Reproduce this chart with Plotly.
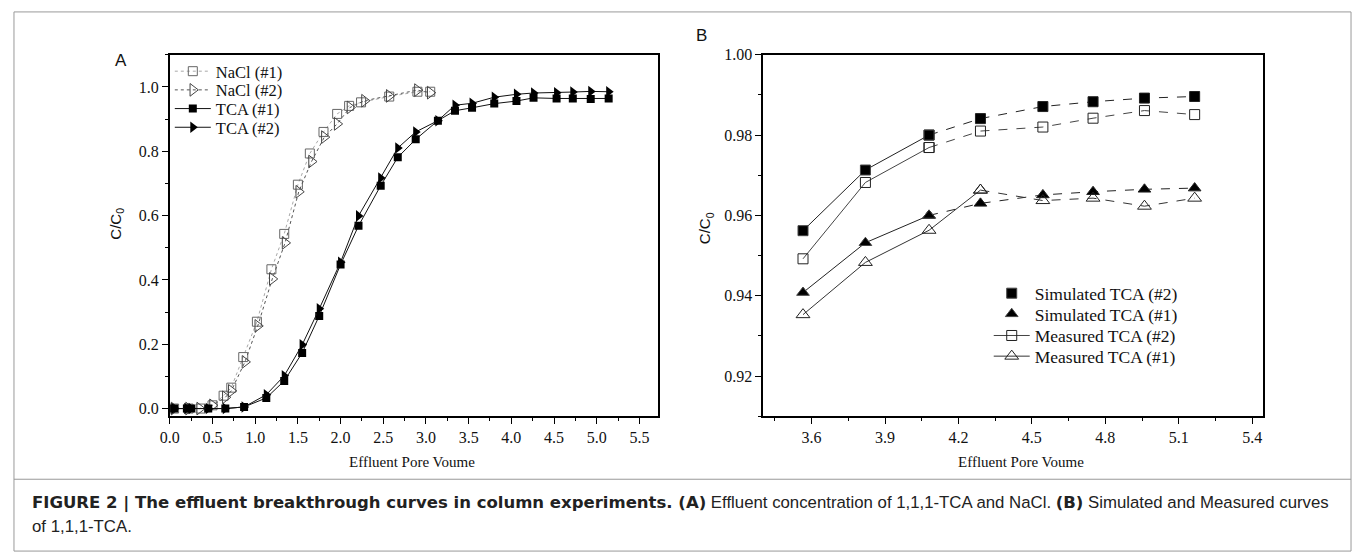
import plotly.graph_objects as go

# ---------------- Panel A data ----------------
nacl1_x = [0.05, 0.22, 0.36, 0.50, 0.63, 0.72, 0.86, 1.02, 1.19, 1.34, 1.50, 1.64, 1.80, 1.96, 2.10, 2.24, 2.57, 2.90, 3.05]
nacl1_y = [0.0, 0.0, 0.0, 0.01, 0.04, 0.065, 0.16, 0.27, 0.433, 0.543, 0.696, 0.793, 0.86, 0.916, 0.941, 0.952, 0.970, 0.985, 0.985]
nacl2_x = [0.05, 0.22, 0.35, 0.50, 0.65, 0.72, 0.88, 1.03, 1.20, 1.35, 1.51, 1.66, 1.81, 1.96, 2.11, 2.28, 2.57, 2.90, 3.05]
nacl2_y = [0.0, 0.0, 0.0, 0.01, 0.035, 0.055, 0.145, 0.257, 0.403, 0.515, 0.674, 0.768, 0.844, 0.885, 0.936, 0.957, 0.972, 0.990, 0.982]
tca_x = [0.05, 0.20, 0.25, 0.45, 0.65, 0.87, 1.13, 1.34, 1.55, 1.75, 2.00, 2.21, 2.47, 2.67, 2.88, 3.14, 3.34, 3.54, 3.80, 4.06, 4.26, 4.53, 4.72, 4.93, 5.14]
tca1_y = [0.0, 0.0, 0.0, 0.0, 0.0, 0.005, 0.033, 0.086, 0.173, 0.288, 0.448, 0.568, 0.693, 0.781, 0.837, 0.895, 0.926, 0.935, 0.948, 0.956, 0.966, 0.964, 0.964, 0.962, 0.964]
tca2_y = [0.0, 0.0, 0.0, 0.0, 0.0, 0.005, 0.043, 0.102, 0.198, 0.310, 0.455, 0.599, 0.717, 0.810, 0.860, 0.895, 0.943, 0.949, 0.968, 0.977, 0.981, 0.982, 0.984, 0.986, 0.985]

# ---------------- Panel B data ----------------
pv_b = [3.565, 3.82, 4.08, 4.29, 4.545, 4.75, 4.96, 5.165]
sim2 = [0.9562, 0.9713, 0.9800, 0.9841, 0.9871, 0.9883, 0.9892, 0.9896]
sim1 = [0.9408, 0.9532, 0.9600, 0.9630, 0.9651, 0.9659, 0.9665, 0.9668]
meas2 = [0.9492, 0.9682, 0.9769, 0.9810, 0.9820, 0.9842, 0.9861, 0.9851]
meas1 = [0.9353, 0.9483, 0.9563, 0.9663, 0.9637, 0.9643, 0.9623, 0.9643]

W, H = 1355, 556
SERIF = "Liberation Serif, Times New Roman, serif"
SANS = "Liberation Sans, Arial, sans-serif"

def px(x):
    return x / W

def py(y):
    return 1 - y / H

fig = go.Figure()
legends = {}

def make_legend(key, x_left, y_mid, size, itemwidth):
    legends[key] = dict(x=px(x_left), y=py(y_mid), xanchor="left", yanchor="middle",
                        font=dict(family=SERIF, size=size, color="#111111"),
                        bgcolor="rgba(0,0,0,0)", itemwidth=itemwidth, borderwidth=0)

# Panel A traces, each with its own legend row
make_legend("legend", 161, 64.5, 16.5, 36)
make_legend("legend2", 161, 83.5, 16.5, 36)
make_legend("legend3", 161, 102.5, 16.5, 36)
make_legend("legend4", 161, 121.5, 16.5, 36)

fig.add_trace(go.Scatter(x=nacl1_x, y=nacl1_y, mode="lines+markers", name="NaCl (#1)",
                         line=dict(color="#a8a8a8", width=1, dash="dot"),
                         marker=dict(symbol="square-open", size=9, color="#666666", line=dict(width=1)),
                         xaxis="x", yaxis="y", legend="legend"))
fig.add_trace(go.Scatter(x=nacl2_x, y=nacl2_y, mode="lines+markers", name="NaCl (#2)",
                         line=dict(color="#555555", width=1, dash="dot"),
                         marker=dict(symbol="triangle-right-open", size=11, color="#444444", line=dict(width=1)),
                         xaxis="x", yaxis="y", legend="legend2"))
fig.add_trace(go.Scatter(x=tca_x, y=tca1_y, mode="lines+markers", name="TCA (#1)",
                         line=dict(color="#111111", width=1),
                         marker=dict(symbol="square", size=8, color="#000000"),
                         xaxis="x", yaxis="y", legend="legend3"))
fig.add_trace(go.Scatter(x=tca_x, y=tca2_y, mode="lines+markers", name="TCA (#2)",
                         line=dict(color="#111111", width=1),
                         marker=dict(symbol="triangle-right", size=10, color="#000000"),
                         xaxis="x", yaxis="y", legend="legend4"))

# Panel B traces: solid early segments, dashed later segments
specs = [
    ("Simulated TCA (#2)", sim2, "square", 10, "#000000", "#222222", 3, "legend5", 290, False),
    ("Simulated TCA (#1)", sim1, "triangle-up", 11, "#000000", "#222222", 3, "legend6", 311, False),
    ("Measured TCA (#2)", meas2, "square-open", 10, "#222222", "#444444", 3, "legend7", 333, True),
    ("Measured TCA (#1)", meas1, "triangle-up-open", 12, "#222222", "#333333", 4, "legend8", 354, True),
]
for name, yv, sym, size, mcol, lcol, nsolid, lg, ymid, legline in specs:
    make_legend(lg, 986, ymid, 17.5, 36)
    mk = dict(symbol=sym, size=size, color=mcol, line=dict(width=1))
    fig.add_trace(go.Scatter(x=pv_b[nsolid - 1:], y=yv[nsolid - 1:], mode="lines+markers",
                             line=dict(color=lcol, width=1, dash="dash"), marker=mk,
                             showlegend=False, hoverinfo="skip",
                             xaxis="x2", yaxis="y2"))
    if legline:
        fig.add_trace(go.Scatter(x=pv_b[:nsolid], y=yv[:nsolid], mode="lines+markers", name=name,
                                 line=dict(color=lcol, width=1), marker=mk,
                                 xaxis="x2", yaxis="y2", legend=lg))
    else:
        fig.add_trace(go.Scatter(x=pv_b[:nsolid], y=yv[:nsolid], mode="lines",
                                 line=dict(color=lcol, width=1),
                                 showlegend=False, hoverinfo="skip",
                                 xaxis="x2", yaxis="y2"))
        fig.add_trace(go.Scatter(x=pv_b[:nsolid], y=yv[:nsolid], mode="markers", name=name,
                                 marker=mk, xaxis="x2", yaxis="y2", legend=lg))

ydom = [py(415), py(47.5)]
axis_common = dict(showline=True, linecolor="#000000", linewidth=1.5, mirror=True,
                   ticks="outside", ticklen=6, tickwidth=1, tickcolor="#000000",
                   showgrid=False, zeroline=False,
                   tickfont=dict(family=SERIF, size=16, color="#111111"))

fig.update_layout(
    width=W, height=H,
    margin=dict(l=0, r=0, t=0, b=0),
    paper_bgcolor="white", plot_bgcolor="white",
    xaxis=dict(domain=[px(161), px(653)], range=[0, 5.72], dtick=0.5, tick0=0, tickformat=".1f",
               minor=dict(ticks="outside", ticklen=3, dtick=0.25, tickcolor="#000000"),
               anchor="y", **axis_common),
    yaxis=dict(domain=ydom, range=[-0.024, 1.10], dtick=0.2, tick0=0, tickformat=".1f",
               minor=dict(ticks="outside", ticklen=3, dtick=0.1, tickcolor="#000000"),
               anchor="x", **axis_common),
    xaxis2=dict(domain=[px(758.7), px(1262)], range=[3.402, 5.443], dtick=0.3, tick0=3.6, tickformat=".1f",
                minor=dict(ticks="outside", ticklen=3, dtick=0.15, tickcolor="#000000"),
                anchor="y2", **axis_common),
    yaxis2=dict(domain=ydom, range=[0.910, 1.000], dtick=0.02, tick0=0.90, tickformat=".2f",
                minor=dict(ticks="outside", ticklen=3, dtick=0.01, tickcolor="#000000"),
                anchor="x2", **axis_common),
    showlegend=True,
    **legends,
)

bold_span = '<span style="font-family:DejaVu Sans;font-size:16.5px"><b>{}</b></span>'
annotations = [
    dict(text="A", x=px(112), y=py(53), font=dict(family=SANS, size=17, color="#111")),
    dict(text="B", x=px(697), y=py(28), font=dict(family=SANS, size=17, color="#111")),
    dict(text="C/C<sub>0</sub>", x=px(107), y=py(219), textangle=-90, font=dict(family=SANS, size=15, color="#111")),
    dict(text="C/C<sub>0</sub>", x=px(701), y=py(224), textangle=-90, font=dict(family=SANS, size=15, color="#111")),
    dict(text="Effluent Pore Voume", x=px(405), y=py(461), font=dict(family=SERIF, size=15, color="#111")),
    dict(text="Effluent Pore Voume", x=px(1019), y=py(461), font=dict(family=SERIF, size=15, color="#111")),
    dict(text=bold_span.format("FIGURE 2 | The effluent breakthrough curves in column experiments. (A)")
         + " Effluent concentration of 1,1,1-TCA and NaCl. " + bold_span.format("(B)")
         + " Simulated and Measured curves",
         x=px(20), y=py(503), xanchor="left", font=dict(family=SANS, size=16.8, color="#222")),
    dict(text="of 1,1,1-TCA.", x=px(20), y=py(527), xanchor="left", font=dict(family=SANS, size=16.8, color="#222")),
]
for a in annotations:
    a.setdefault("xanchor", "center")
    a.update(xref="paper", yref="paper", yanchor="middle", showarrow=False)
fig.update_layout(annotations=annotations)

fig.update_layout(shapes=[
    dict(type="rect", xref="paper", yref="paper", x0=px(4), x1=px(1351), y0=py(552), y1=py(4),
         line=dict(color="#999999", width=1)),
    dict(type="line", xref="paper", yref="paper", x0=px(4), x1=px(1351), y0=py(479), y1=py(479),
         line=dict(color="#999999", width=1)),
])

fig.write_html("out.html", config={"displayModeBar": False},
               post_script="document.body.style.margin='0';document.body.style.overflow='hidden';")
